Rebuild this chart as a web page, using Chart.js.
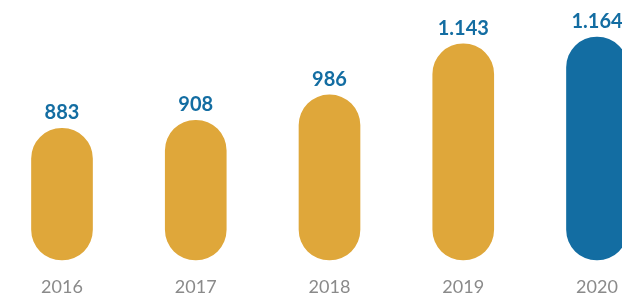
<!DOCTYPE html>
<html>
<head>
<meta charset="utf-8">
<script src="https://cdn.jsdelivr.net/npm/chart.js@4/dist/chart.umd.min.js"></script>
<style>
  html, body { margin: 0; padding: 0; background: #fff; overflow: hidden; }
  #wrap { position: relative; width: 622px; height: 294px; }
</style>
</head>
<body>
<div id="wrap"><canvas id="grafica" width="622" height="294"></canvas></div>
<script>
const years = ['2016', '2017', '2018', '2019', '2020'];
const values = [883, 908, 986, 1143, 1164];
const barColors = ['#dfa73a', '#dfa73a', '#dfa73a', '#dfa73a', '#136da2'];

const blue = '#136da2';
const yMin = 478;
const yMax = 1278;

// miles con punto, como en el original
function formato(v) {
  return String(v).replace(/\B(?=(\d{3})+(?!\d))/g, '.');
}

const etiquetas = {
  id: 'etiquetas',
  afterDatasetsDraw(chart) {
    const ctx = chart.ctx;
    const meta = chart.getDatasetMeta(0);
    ctx.save();
    ctx.font = 'bold 20px Lato';
    ctx.fillStyle = blue;
    ctx.textAlign = 'center';
    ctx.textBaseline = 'alphabetic';
    meta.data.forEach((bar, i) => {
      ctx.fillText(formato(values[i]), bar.x, bar.y - 9);
    });
    ctx.restore();
  }
};

new Chart(document.getElementById('grafica'), {
  type: 'bar',
  data: {
    labels: years,
    datasets: [{
      data: values,
      base: yMin,
      backgroundColor: barColors,
      barThickness: 61,
      borderRadius: 31,
      borderSkipped: false,
      clip: false
    }]
  },
  options: {
    responsive: false,
    devicePixelRatio: 1,
    animation: false,
    layout: { padding: { left: 62, right: 25, top: 0, bottom: 0 } },
    plugins: {
      legend: { display: false },
      tooltip: { enabled: false }
    },
    scales: {
      x: {
        offset: false,
        grid: { display: false, drawTicks: false },
        border: { display: false },
        ticks: {
          color: '#8a8a8a',
          font: { family: 'Lato', size: 18 },
          padding: 16,
          maxRotation: 0,
          autoSkip: false
        },
        afterFit(scale) {
          scale.height = 34;
          scale.paddingLeft = 0;
          scale.paddingRight = 0;
        }
      },
      y: {
        display: false,
        min: yMin,
        max: yMax
      }
    }
  },
  plugins: [etiquetas]
});
</script>
</body>
</html>
